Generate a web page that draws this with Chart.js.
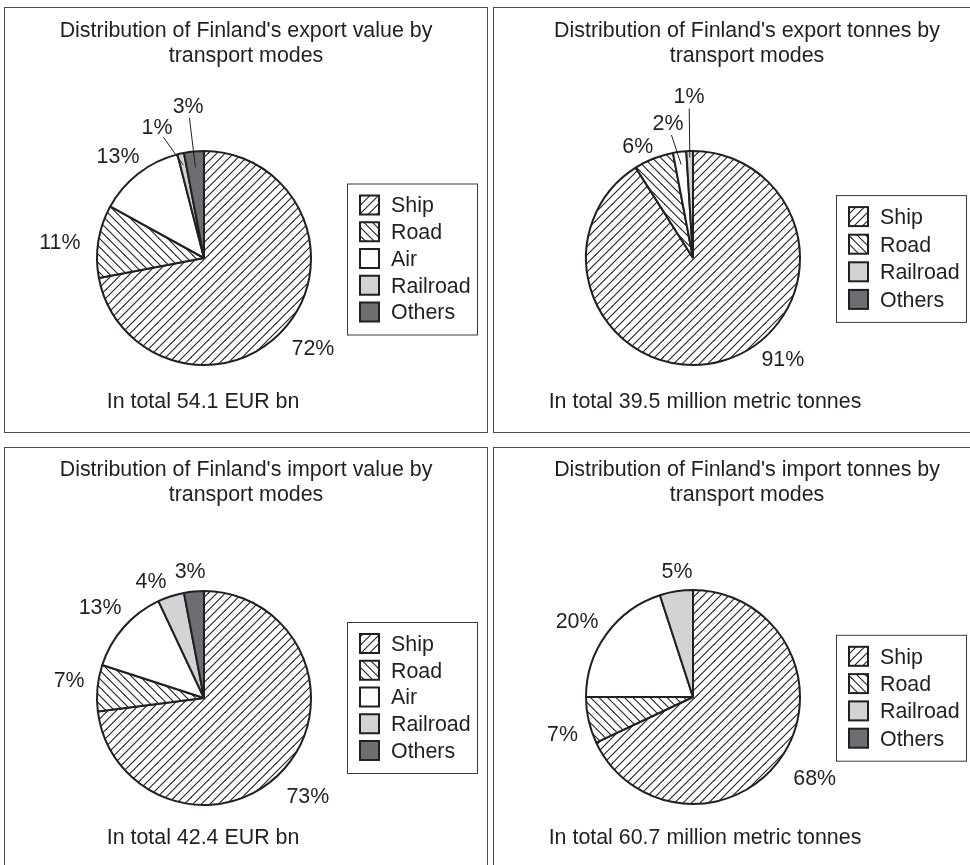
<!DOCTYPE html>
<html>
<head>
<meta charset="utf-8">
<script src="https://cdn.jsdelivr.net/npm/chart.js@4.4.1/dist/chart.umd.min.js"></script>
<style>
html, body { margin: 0; padding: 0; background: #fff; overflow: hidden; width: 970px; height: 865px; }
.panel { position: absolute; border: 1px solid #4d4d4d; background: #fff; overflow: hidden; }
.panel canvas { display: block; }
</style>
</head>
<body>
<div class="panel" style="left:4px;top:7px;width:482px;height:424px"><canvas id="c1" width="482" height="424"></canvas></div>
<div class="panel" style="left:493px;top:7px;width:506px;height:424px"><canvas id="c2" width="506" height="424"></canvas></div>
<div class="panel" style="left:4px;top:447px;width:482px;height:424px"><canvas id="c3" width="482" height="424"></canvas></div>
<div class="panel" style="left:493px;top:447px;width:506px;height:424px"><canvas id="c4" width="506" height="424"></canvas></div>
<script>
// ---------------- DATA ----------------
const categories = ['Ship', 'Road', 'Air', 'Railroad', 'Others'];
const exportValuePct  = [72, 11, 13, 1, 3];
const exportTonnesPct = [91, 6, 2, 1, 0];
const importValuePct  = [73, 7, 13, 4, 3];
const importTonnesPct = [68, 7, 20, 5, 0];

const titleExportValue  = ["Distribution of Finland's export value by", 'transport modes'];
const titleExportTonnes = ["Distribution of Finland's export tonnes by", 'transport modes'];
const titleImportValue  = ["Distribution of Finland's import value by", 'transport modes'];
const titleImportTonnes = ["Distribution of Finland's import tonnes by", 'transport modes'];

const totalExportValue  = 'In total 54.1 EUR bn';
const totalExportTonnes = 'In total 39.5 million metric tonnes';
const totalImportValue  = 'In total 42.4 EUR bn';
const totalImportTonnes = 'In total 60.7 million metric tonnes';

const valueLegendItems  = ['Ship', 'Road', 'Air', 'Railroad', 'Others'];
const tonnesLegendItems = ['Ship', 'Road', 'Railroad', 'Others'];

// ---------------- STYLE ----------------
const INK = '#231f20';
const FONT = '"Liberation Sans", Arial, Helvetica, sans-serif';
const FONT_SIZE = 21.4;

function hatch(dir) {
  const s = 17;
  const c = document.createElement('canvas');
  c.width = s; c.height = s;
  const g = c.getContext('2d');
  g.fillStyle = '#ffffff';
  g.fillRect(0, 0, s, s);
  g.strokeStyle = INK;
  g.lineWidth = 1.1;
  for (let k = -3; k <= 4; k++) {
    const o = k * 8.5;
    g.beginPath();
    if (dir > 0) { g.moveTo(o - 2, s + 2); g.lineTo(o + s + 2, -2); }
    else { g.moveTo(o - 2, -2); g.lineTo(o + s + 2, s + 2); }
    g.stroke();
  }
  return g.createPattern(c, 'repeat');
}
const shipFill = hatch(1);
const roadFill = hatch(-1);
const fills = [shipFill, roadFill, '#ffffff', '#d1d3d4', '#6d6e71'];

// ---------------- DECORATION PLUGIN ----------------
const decor = {
  id: 'decor',
  afterDatasetsDraw(chart, args, o) {
    const ctx = chart.ctx;
    const meta = chart.getDatasetMeta(0);
    const values = chart.data.datasets[0].data;
    ctx.save();
    ctx.font = FONT_SIZE + 'px ' + FONT;
    ctx.fillStyle = INK;
    ctx.strokeStyle = INK;
    ctx.textAlign = 'center';
    ctx.textBaseline = 'middle';
    meta.data.forEach((arc, i) => {
      const v = values[i];
      if (!v) return;
      const p = arc.getProps(['x', 'y', 'startAngle', 'endAngle', 'outerRadius'], true);
      const mid = (p.startAngle + p.endAngle) / 2;
      const a = mid + (o.shift[i] || 0) * Math.PI / 180;
      const d = o.dist[i] * p.outerRadius;
      const lx = p.x + Math.cos(a) * d;
      const ly = p.y + Math.sin(a) * d;
      ctx.fillText(v + '%', lx, ly);
      if (o.leaders[i]) {
        const ex = p.x + Math.cos(mid) * p.outerRadius * o.leaderEnd[i];
        const ey = p.y + Math.sin(mid) * p.outerRadius * o.leaderEnd[i];
        const dx = ex - lx, dy = ey - ly;
        const len = Math.hypot(dx, dy);
        ctx.lineWidth = 1;
        ctx.beginPath();
        ctx.moveTo(lx + dx / len * 11, ly + dy / len * 11);
        ctx.lineTo(ex, ey);
        ctx.stroke();
      }
    });
    ctx.restore();
  },
  afterDraw(chart, args, o) {
    const ctx = chart.ctx;
    const meta = chart.getDatasetMeta(0);
    const p0 = meta.data[0].getProps(['x', 'y'], true);
    const cx = p0.x, cy = p0.y;
    ctx.save();
    ctx.font = FONT_SIZE + 'px ' + FONT;
    ctx.fillStyle = INK;
    ctx.textAlign = 'center';
    ctx.textBaseline = 'middle';
    // title
    o.title.forEach((line, k) => ctx.fillText(line, chart.width / 2, o.titleY + k * 25));
    // total
    ctx.fillText(o.total, cx + o.totalDX, cy + o.totalDY);
    // legend
    const items = o.legendItems;
    const n = items.length;
    const sp = o.legendSpacing;
    const first = cy + o.legendDY - (n - 1) * sp / 2;
    const boxTop = first - 22;
    const boxH = (n - 1) * sp + 44;
    ctx.lineWidth = 1;
    ctx.strokeStyle = '#3a3a3a';
    ctx.strokeRect(cx + 143.5, boxTop + 0.5, 130, boxH);
    ctx.textAlign = 'left';
    const bg = chart.data.datasets[0].backgroundColor;
    items.forEach((name, k) => {
      const idx = chart.data.labels.indexOf(name);
      const y = first + k * sp;
      ctx.fillStyle = bg[idx];
      ctx.fillRect(cx + 156, y - 10, 19, 19);
      ctx.lineWidth = 2;
      ctx.strokeStyle = INK;
      ctx.strokeRect(cx + 156, y - 10, 19, 19);
      ctx.fillStyle = INK;
      ctx.fillText(name, cx + 187, y + 1);
    });
    ctx.restore();
  }
};

function makePie(id, values, cfg) {
  const canvas = document.getElementById(id);
  const W = canvas.width, H = canvas.height;
  const cx = cfg.center[0], cy = cfg.center[1];
  const padTop = Math.max(0, 2 * cy - H);
  const padBottom = Math.max(0, H - 2 * cy);
  return new Chart(canvas, {
    type: 'pie',
    data: {
      labels: categories,
      datasets: [{
        data: values,
        backgroundColor: fills,
        borderColor: INK,
        borderWidth: 2,
        radius: 107
      }]
    },
    plugins: [decor],
    options: {
      responsive: false,
      animation: false,
      devicePixelRatio: 1,
      layout: { padding: { left: 0, right: W - 2 * cx, top: padTop, bottom: padBottom } },
      plugins: {
        legend: { display: false },
        tooltip: { enabled: false },
        decor: cfg.decor
      }
    }
  });
}

makePie('c1', exportValuePct, {
  center: [199, 250],
  decor: {
    title: titleExportValue, titleY: 23.5, total: totalExportValue, totalDX: -1, totalDY: 144,
    legendItems: valueLegendItems, legendSpacing: 26.75, legendDY: 1,
    shift: [0.3, -3, -2.6, -7.3, -0.6], dist: [1.327, 1.355, 1.24, 1.29, 1.42],
    leaders: [false, false, false, true, true], leaderEnd: [0, 0, 0, 0.89, 0.85]
  }
});
makePie('c2', exportTonnesPct, {
  center: [199, 250],
  decor: {
    title: titleExportTonnes, titleY: 23.5, total: totalExportTonnes, totalDX: 12, totalDY: 144,
    legendItems: tonnesLegendItems, legendSpacing: 27.6, legendDY: 0.5,
    shift: [-25.2, -4.8, -3.4, 0.4, 0], dist: [1.27, 1.16, 1.27, 1.5, 0],
    leaders: [false, false, true, true, false], leaderEnd: [0, 0, 0.88, 0.94, 0]
  }
});
makePie('c3', importValuePct, {
  center: [199, 250],
  decor: {
    title: titleImportValue, titleY: 22.5, total: totalImportValue, totalDX: -1, totalDY: 140,
    legendItems: valueLegendItems, legendSpacing: 26.75, legendDY: -0.5,
    shift: [2.2, 1.8, -0.5, -6.6, -0.9], dist: [1.34, 1.27, 1.285, 1.19, 1.185],
    leaders: [false, false, false, false, false], leaderEnd: [0, 0, 0, 0, 0]
  }
});
makePie('c4', importTonnesPct, {
  center: [199, 249],
  decor: {
    title: titleImportTonnes, titleY: 22.5, total: totalImportTonnes, totalDX: 12, totalDY: 141,
    legendItems: tonnesLegendItems, legendSpacing: 27.3, legendDY: 0.75,
    shift: [1.5, -3.7, -3.1, 1.7, 0], dist: [1.37, 1.27, 1.29, 1.18, 0],
    leaders: [false, false, false, false, false], leaderEnd: [0, 0, 0, 0, 0]
  }
});
</script>
</body>
</html>
